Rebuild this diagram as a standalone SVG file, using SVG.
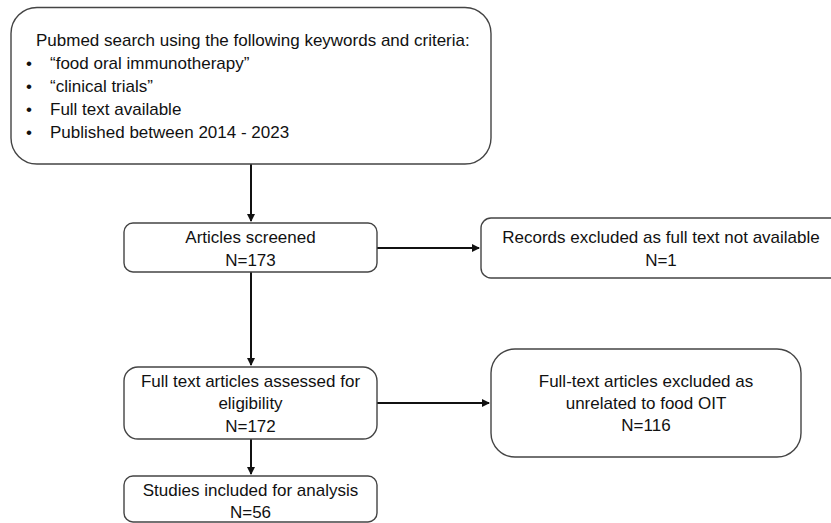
<svg xmlns="http://www.w3.org/2000/svg" width="831" height="523" viewBox="0 0 831 523">
<style>
.box{fill:#fff;stroke:#444;stroke-width:1.4}
text{font-family:"Liberation Sans",Arial,sans-serif;font-size:17px;fill:#111}
.c{text-anchor:middle}
.con{stroke:#111;stroke-width:2;fill:none;marker-end:url(#ah)}
</style>
<defs>
<marker id="ah" markerWidth="4" markerHeight="4" refX="3.5" refY="2" orient="auto" markerUnits="strokeWidth">
<path d="M0,0 L4,2 L0,4 Z" fill="#111"/>
</marker>
</defs>
<rect width="831" height="523" fill="#fff"/>
<g id="connectors">
<line class="con" x1="251" y1="164" x2="251" y2="221"/>
<line class="con" x1="377" y1="248" x2="479" y2="248"/>
<line class="con" x1="251" y1="272" x2="251" y2="365"/>
<line class="con" x1="377" y1="403" x2="489" y2="403"/>
<line class="con" x1="251" y1="439" x2="251" y2="474"/>
</g>
<g id="search">
<rect class="box" x="11" y="7.5" width="480" height="156.5" rx="26"/>
<text x="36" y="46">Pubmed search using the following keywords and criteria:</text>
<text x="26" y="69">•</text><text x="50" y="69">“food oral immunotherapy”</text>
<text x="26" y="92">•</text><text x="50" y="92">“clinical trials”</text>
<text x="26" y="115">•</text><text x="50" y="115">Full text available</text>
<text x="26" y="138">•</text><text x="50" y="138">Published between 2014 - 2023</text>
</g>
<g id="screened">
<rect class="box" x="124" y="223" width="253" height="49" rx="9"/>
<text class="c" x="250.5" y="243">Articles screened</text>
<text class="c" x="250.5" y="266">N=173</text>
</g>
<g id="excluded1">
<rect class="box" x="481" y="218" width="361" height="60" rx="10"/>
<text class="c" x="661" y="243">Records excluded as full text not available</text>
<text class="c" x="661" y="266">N=1</text>
</g>
<g id="fulltext">
<rect class="box" x="124" y="367" width="253" height="72" rx="14"/>
<text class="c" x="250.5" y="387">Full text articles assessed for</text>
<text class="c" x="250.5" y="409">eligibility</text>
<text class="c" x="250.5" y="432">N=172</text>
</g>
<g id="excluded2">
<rect class="box" x="491" y="349" width="310" height="108" rx="24"/>
<text class="c" x="646" y="387">Full-text articles excluded as</text>
<text class="c" x="646" y="409">unrelated to food OIT</text>
<text class="c" x="646" y="431">N=116</text>
</g>
<g id="included">
<rect class="box" x="124" y="476" width="253" height="46" rx="9"/>
<text class="c" x="250.5" y="496">Studies included for analysis</text>
<text class="c" x="250.5" y="518">N=56</text>
</g>
</svg>
